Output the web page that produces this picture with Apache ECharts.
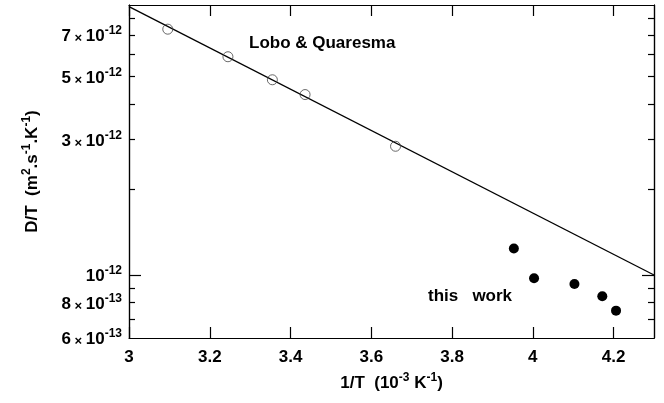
<!DOCTYPE html>
<html><head><meta charset="utf-8">
<script src="https://cdn.jsdelivr.net/npm/echarts@6/dist/echarts.min.js"></script>
<style>html,body{margin:0;padding:0;background:#fff}#c{width:664px;height:403px}</style>
</head><body><div id="c"></div>
<script>
// Data (D/T in m^2 s^-1 K^-1, 1/T in 10^-3 K^-1)
const loboX = [3.096, 3.245, 3.355, 3.436, 3.660];
const loboY = [7.34e-12, 5.87e-12, 4.87e-12, 4.32e-12, 2.84e-12];
const workX = [3.953, 4.003, 4.103, 4.172, 4.206];
const workY = [1.24e-12, 9.74e-13, 9.30e-13, 8.42e-13, 7.49e-13];
const fitX = [3.0, 4.3];
const fitY = [8.81e-12, 1.0e-12];
const xTickLabels = [3, 3.2, 3.4, 3.6, 3.8, 4, 4.2];
const yTickLabels = [6e-13, 8e-13, 1e-12, 3e-12, 5e-12, 7e-12];
const yShortTicks = [7e-13, 8e-13, 9e-13, 2e-12, 3e-12, 4e-12, 5e-12, 6e-12, 7e-12, 8e-12];
const yLongTicks = [1e-12];

const UNIT = 1e-12; // plotted in units of 1e-12
const sc = v => v / UNIT;
const FF = '"Liberation Sans", Arial, sans-serif';

const baseRich = {
  b: {fontSize: 17, fontWeight: 'bold', fontFamily: FF, color: '#000', lineHeight: 20, verticalAlign: 'bottom'},
  x: {fontSize: 13, fontWeight: 'bold', fontFamily: FF, color: '#000', lineHeight: 20, verticalAlign: 'bottom'},
  s: {fontSize: 12, fontWeight: 'bold', fontFamily: FF, color: '#000', lineHeight: 12, verticalAlign: 'top'}
};

function yFmt(v) {
  const real = v * UNIT;
  let e = Math.floor(Math.log10(real) + 1e-9);
  let m = Math.round(real / Math.pow(10, e));
  if (m === 1) return '{b|10}{s|' + e + '}';
  return '{b|' + m + '}{x| × }{b|10}{s|' + e + '}';
}

const YMIN = 0.6, YMAX = 8.93;
const axisLine = {show: true, lineStyle: {color: '#000', width: 1.2}};

function yAxisDef(pos, ticks, len, labels) {
  return {
    type: 'log', position: pos, min: YMIN, max: YMAX, logBase: 10,
    axisLine: axisLine,
    axisTick: {show: true, inside: true, length: len, customValues: ticks.map(sc), lineStyle: {color: '#000', width: 1.2}},
    axisLabel: labels ? {show: true, customValues: yTickLabels.map(sc), formatter: yFmt, rich: baseRich, margin: 7} : {show: false},
    splitLine: {show: false}, minorTick: {show: false}
  };
}

function xAxisDef(pos, labels) {
  return {
    type: 'value', position: pos, min: 3, max: 4.3, interval: 0.2,
    axisLine: axisLine,
    axisTick: {show: true, inside: true, length: 11, customValues: xTickLabels, lineStyle: {color: '#000', width: 1.2}},
    axisLabel: labels ? {show: true, customValues: xTickLabels, fontSize: 17, fontWeight: 'bold', fontFamily: FF, color: '#000', margin: 11} : {show: false},
    splitLine: {show: false}
  };
}

const xBottom = xAxisDef('bottom', true);
xBottom.name = '{b|1/T  (10}{s|-3}{b| K}{s|-1}{b|)}';
xBottom.nameLocation = 'middle';
xBottom.nameGap = 34;
xBottom.nameTextStyle = {rich: baseRich};

const yLeft = yAxisDef('left', yShortTicks, 6, true);
yLeft.name = '{b|D/T  (m}{s|2}{b|.s}{s|-1}{b|.K}{s|-1}{b|)}';
yLeft.nameLocation = 'middle';
yLeft.nameGap = 88;
yLeft.nameTextStyle = {rich: baseRich};

const option = {
  backgroundColor: '#fff',
  animation: false,
  grid: {left: 129, right: 10, top: 5, bottom: 65, containLabel: false},
  xAxis: [xBottom, xAxisDef('top', false)],
  yAxis: [
    yLeft,
    yAxisDef('left', yLongTicks, 12, false),
    yAxisDef('right', yShortTicks, 6, false),
    yAxisDef('right', yLongTicks, 12, false)
  ],
  series: [
    {
      type: 'line', name: 'fit', xAxisIndex: 0, yAxisIndex: 0,
      data: fitX.map((x, i) => [x, sc(fitY[i])]),
      symbol: 'none', lineStyle: {color: '#000', width: 1.3}, z: 2
    },
    {
      type: 'scatter', name: 'Lobo & Quaresma', xAxisIndex: 0, yAxisIndex: 0,
      data: loboX.map((x, i) => [x, sc(loboY[i])]),
      symbol: 'circle', symbolSize: 10,
      itemStyle: {color: 'rgba(0,0,0,0)', borderColor: '#444', borderWidth: 1}, z: 3
    },
    {
      type: 'scatter', name: 'this work', xAxisIndex: 0, yAxisIndex: 0,
      data: workX.map((x, i) => [x, sc(workY[i])]),
      symbol: 'circle', symbolSize: 10,
      itemStyle: {color: '#000', opacity: 1}, z: 3
    }
  ],
  graphic: [
    {type: 'text', left: 249, top: 35, style: {text: 'Lobo & Quaresma', fontSize: 17, fontWeight: 'bold', fontFamily: FF, fill: '#000'}},
    {type: 'text', left: 428, top: 288, style: {text: 'this   work', fontSize: 17, fontWeight: 'bold', fontFamily: FF, fill: '#000'}}
  ]
};

const chart = echarts.init(document.getElementById('c'), null, {renderer: 'canvas'});
chart.setOption(option);
</script>
</body></html>
